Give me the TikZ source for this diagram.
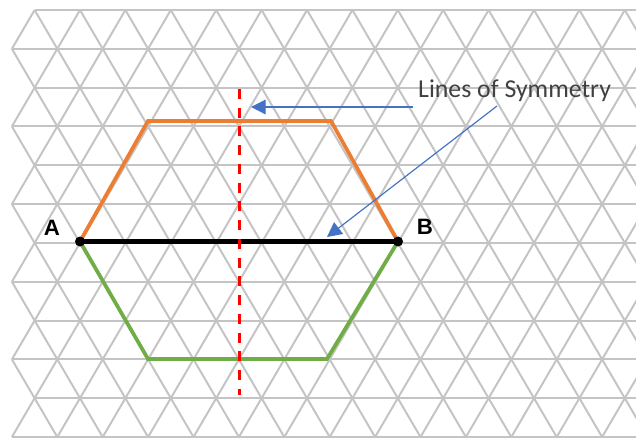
\documentclass[tikz,border=0pt]{standalone}
\usepackage{fontspec}
\setmainfont{Liberation Sans}
\newfontfamily\symfont{Carlito}
\usetikzlibrary{arrows.meta}

\definecolor{gridgray}{RGB}{196,196,196}
\definecolor{hexorange}{RGB}{237,125,49}
\definecolor{hexgreen}{RGB}{112,173,71}
\definecolor{symblue}{RGB}{68,114,196}
\definecolor{textgray}{RGB}{64,64,64}

\tikzset{
  gridline/.style={gridgray, line width=1.7pt},
  ptlabel/.style={font=\fontsize{19}{19}\selectfont\bfseries, inner sep=0pt},
  symtext/.style={font=\symfont\fontsize{22}{22}\selectfont, text=textgray, inner sep=0pt},
  symarrow/.style={->, symblue, line width=1pt}
}

\begin{document}
\begin{tikzpicture}[x=0.03cm, y=-0.03cm, >={Triangle[length=4.4mm, width=4.4mm]}]
    % 1. Picture frame
    \useasboundingbox (0,0) rectangle (636,439);
    \clip (0,0) rectangle (636,439);

    % 2. Triangular grid
    \foreach \r in {0,...,11} {
        \pgfmathsetmacro\xs{34.6-22.7*mod(\r,2)}
        \draw[gridline] (\xs, 10+38.82*\r) -- (660, 10+38.82*\r);
    }
    \foreach \r in {0,...,10} {
        \pgfmathsetmacro\yr{10+38.82*\r}
        \foreach \k in {0,...,14} {
            \pgfmathsetmacro\xr{34.6-22.7*mod(\r,2)+45.4*\k}
            \pgfmathsetmacro\xl{34.6+22.7*mod(\r,2)+45.4*\k}
            \draw[gridline] (\xr, \yr) -- ++(22.7, 38.82);
            \draw[gridline] (\xl, \yr) -- ++(-22.7, 38.82);
        }
    }

    % 3. Hexagon corners
    \coordinate (A) at (80, 241.5);
    \coordinate (B) at (398, 241.5);
    \coordinate (topL) at (148, 121);
    \coordinate (topR) at (331, 121);
    \coordinate (botL) at (148, 359);
    \coordinate (botR) at (327, 359);

    % 4. Hexagon halves and the line AB
    \draw[hexorange, line width=3.2pt] (A) -- (topL) -- (topR) -- (B);
    \draw[hexgreen, line width=3.2pt] (A) -- (botL) -- (botR) -- (B);
    \draw[black, line width=3.6pt] (A) -- (B);
    \fill[black] (A) circle (5);
    \fill[black] (B) circle (5);

    % 5. Vertical line of symmetry
    \coordinate (axisTop) at (239.5, 89);
    \coordinate (axisBot) at (239.5, 395);
    \draw[red, line width=2.1pt, dash pattern=on 8.5pt off 7.5pt] (axisTop) -- (axisBot);

    % 6. Labels
    \node[ptlabel] (labelA) at (52, 228) {A};
    \node[ptlabel] (labelB) at (425, 227) {B};
    \node[symtext, anchor=base west] (symlabel) at (418, 97) {Lines of Symmetry};

    % 7. Arrows to the two lines
    \coordinate (startAxis) at (413, 107);
    \coordinate (tipAxis) at (251, 107);
    \coordinate (startAB) at (497, 106);
    \coordinate (tipAB) at (327, 237);
    \draw[symarrow] (startAxis) -- (tipAxis);
    \draw[symarrow] (startAB) -- (tipAB);
\end{tikzpicture}
\end{document}
